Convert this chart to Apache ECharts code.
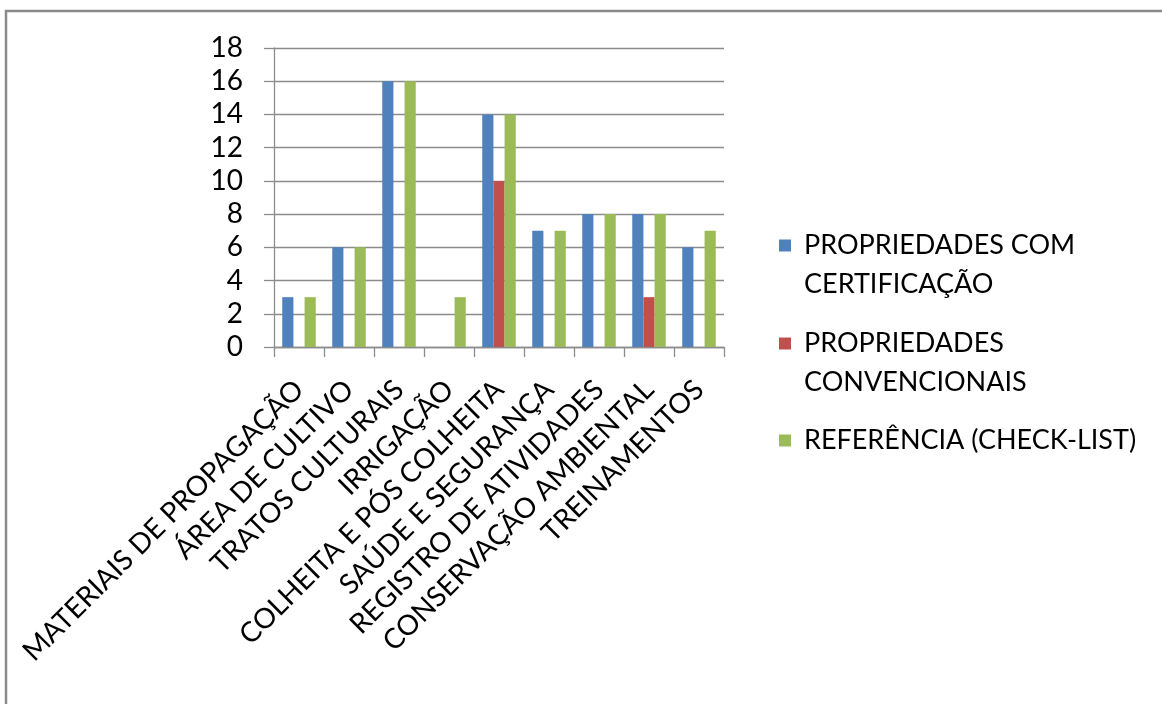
<!DOCTYPE html>
<html>
<head>
<meta charset="utf-8">
<script src="https://cdn.jsdelivr.net/npm/echarts@6/dist/echarts.min.js"></script>
<style>
  html, body { margin: 0; padding: 0; background: #ffffff; }
  #chart { width: 1162px; height: 704px; }
</style>
</head>
<body>
<div id="chart"></div>
<script>
// Categories of good-practice items
const categories = [
  'MATERIAIS DE PROPAGAÇÃO',
  'ÁREA DE CULTIVO',
  'TRATOS CULTURAIS',
  'IRRIGAÇÃO',
  'COLHEITA E PÓS COLHEITA',
  'SAÚDE E SEGURANÇA',
  'REGISTRO DE ATIVIDADES',
  'CONSERVAÇÃO AMBIENTAL',
  'TREINAMENTOS'
];

// Series names (legend entries)
const seriesNames = [
  'PROPRIEDADES COM CERTIFICAÇÃO',
  'PROPRIEDADES CONVENCIONAIS',
  'REFERÊNCIA (CHECK-LIST)'
];

// Values per series
const certificadas = [3, 6, 16, 0, 14, 7, 8, 8, 6];
const convencionais = [0, 0, 0, 0, 10, 0, 0, 3, 0];
const referencia = [3, 6, 16, 3, 14, 7, 8, 8, 7];

// Y axis range
const yMin = 0;
const yMax = 18;
const yStep = 2;

const colors = ['#4F81BD', '#C0504D', '#9BBB59'];
const fontFamily = 'Lato, "Open Sans", sans-serif';
const axisGray = '#8c8c8c';

const chart = echarts.init(document.getElementById('chart'), null, { renderer: 'canvas' });

// Legend entries: wrapped text, marker beside the first line
const legendLines = [
  ['PROPRIEDADES COM', 'CERTIFICAÇÃO'],
  ['PROPRIEDADES', 'CONVENCIONAIS'],
  ['REFERÊNCIA (CHECK-LIST)']
];
const legendTops = [187, 285, 421];

function makeLegend(i) {
  const lines = legendLines[i];
  // a blank leading line keeps the marker level with the first text line
  const label = lines.length > 1 ? '{gap|}\n' + lines.join('\n') : lines[0];
  return {
    show: true,
    orient: 'vertical',
    left: 779,
    top: legendTops[i],
    padding: 0,
    itemWidth: 12,
    itemHeight: 12,
    icon: 'rect',
    selectedMode: false,
    data: [{ name: seriesNames[i], itemStyle: { color: colors[i] } }],
    formatter: function () { return label; },
    textStyle: {
      fontFamily: fontFamily,
      fontSize: 27,
      color: '#000',
      lineHeight: 39,
      padding: [0, 0, 0, 8],
      rich: {
        gap: { fontSize: 27, lineHeight: 39 }
      }
    }
  };
}

const seriesData = [certificadas, convencionais, referencia];

const option = {
  animation: false,
  backgroundColor: '#ffffff',
  color: colors,
  grid: {
    left: 274,
    right: 438,
    top: 48,
    bottom: 357,
    containLabel: false
  },
  legend: [makeLegend(0), makeLegend(1), makeLegend(2)],
  xAxis: {
    type: 'category',
    data: categories,
    boundaryGap: true,
    axisLine: { show: true, lineStyle: { color: axisGray, width: 1.3 } },
    axisTick: { show: true, length: 10, alignWithLabel: false, lineStyle: { color: axisGray, width: 1.3 } },
    axisLabel: {
      interval: 0,
      rotate: 45,
      margin: 38,
      fontFamily: fontFamily,
      fontSize: 28,
      color: '#000'
    },
    splitLine: { show: false }
  },
  yAxis: {
    type: 'value',
    min: yMin,
    max: yMax,
    interval: yStep,
    axisLine: { show: true, lineStyle: { color: axisGray, width: 1.3 } },
    axisTick: { show: true, length: 10, lineStyle: { color: axisGray, width: 1.3 } },
    axisLabel: {
      margin: 31,
      fontFamily: fontFamily,
      fontSize: 28,
      color: '#000'
    },
    splitLine: { show: true, lineStyle: { color: axisGray, width: 1.3 } }
  },
  series: seriesNames.map(function (name, i) {
    return {
      name: name,
      type: 'bar',
      data: seriesData[i],
      barGap: '0%',
      barCategoryGap: '33%',
      itemStyle: { color: colors[i] }
    };
  }),
  graphic: [
    {
      type: 'polyline',
      silent: true,
      shape: { points: [[6, 704], [6, 11], [1162, 11]] },
      style: { stroke: '#8a8a8a', lineWidth: 2.5, fill: null }
    }
  ]
};

chart.setOption(option);
</script>
</body>
</html>
